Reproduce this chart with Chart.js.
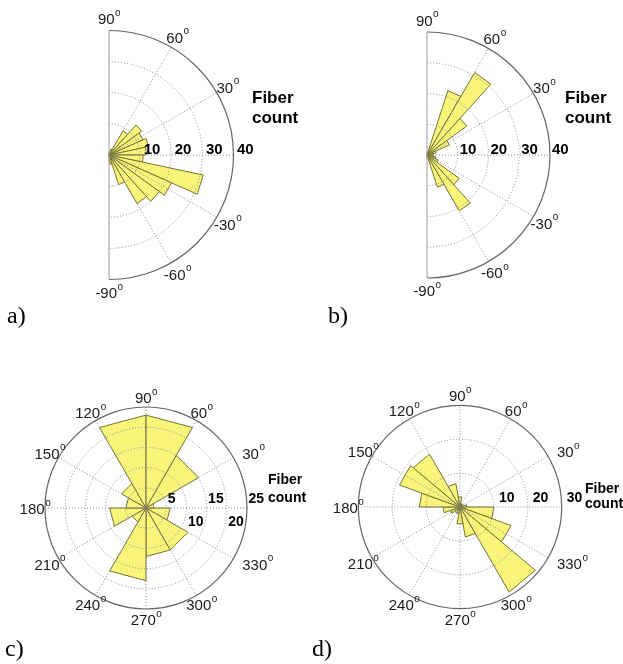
<!DOCTYPE html>
<html><head><meta charset="utf-8">
<script src="https://cdn.jsdelivr.net/npm/chart.js@4"></script>
<style>
html,body{margin:0;padding:0;background:#fff;}
body{width:623px;height:664px;position:relative;overflow:hidden;}
canvas{position:absolute;}
.fc{position:absolute;font-family:"Liberation Sans",Arial,Helvetica,sans-serif;font-weight:bold;color:#000;white-space:nowrap;}
.pl{position:absolute;font-family:"Liberation Serif","Times New Roman",serif;font-size:24px;line-height:24px;color:#000;}
</style></head><body>
<canvas id="ca" width="320" height="320" style="left:-51px;top:-5px;width:320px;height:320px"></canvas>
<canvas id="cb" width="320" height="320" style="left:267px;top:-5px;width:320px;height:320px"></canvas>
<canvas id="cc" width="290" height="290" style="left:1px;top:363px;width:290px;height:290px"></canvas>
<canvas id="cd" width="290" height="290" style="left:315px;top:362px;width:290px;height:290px"></canvas>
<div class="fc" style="left:252px;top:88px;font-size:17px;line-height:20px">Fiber<br>count</div>
<div class="fc" style="left:565px;top:88px;font-size:17px;line-height:20px">Fiber<br>count</div>
<div class="fc" style="left:268px;top:470px;font-size:14px;line-height:18px">Fiber<br>count</div>
<div class="fc" style="left:585px;top:481px;font-size:14px;line-height:15px">Fiber<br>count</div>
<div class="pl" style="left:7px;top:303px">a)</div>
<div class="pl" style="left:328px;top:303px">b)</div>
<div class="pl" style="left:5px;top:636px">c)</div>
<div class="pl" style="left:312px;top:636px">d)</div>
<script>
// ---------- data ----------
// a) 12-degree bins, start angle of each bin (deg) and fiber counts
const aBinStart = [-96,-84,-72,-60,-48,-36,-24,-12,0,12,24,36,48,60,72,84];
const aCounts   = [0,3,10,18,20,22,31,11,12,13,12,13,9,2,1,0];
const aRingTicks = [10,20,30,40];
const aAngleTicks = [90,60,30,-30,-60,-90];

// b)
const bBinStart = [-96,-84,-72,-60,-48,-36,-24,-12,0,12,24,36,48,60,72,84];
const bCounts   = [0,1,11,21,13,4,3,2,2,3,8,16,31,22,1,0];
const bRingTicks = [10,20,30,40];
const bAngleTicks = [90,60,30,-30,-60,-90];

// c) 30-degree bins
const cBinStart = [0,30,60,90,120,150,180,210,240,270,300,330];
const cCounts   = [2,15,23,23,7,5,9,4,18,12,12,6];
const cRingTicks = [5,10,15,20,25];
const cAngleTicks = [90,60,30,330,300,270,240,210,180,150,120];

// d) 20-degree bins
const dBinStart = [0,20,40,60,80,100,120,140,160,180,200,220,240,260,280,300,320,340];
const dCounts   = [2,1,1,1,3,7,18,19,12,5,3,2,2,5,9,29,16,10];
const dRingTicks = [10,20,30];
const dAngleTicks = [90,60,30,330,300,270,240,210,180,150,120];

// ---------- style ----------
const FILL = 'rgb(249,244,122)';
const EDGE = 'rgb(118,116,50)';
const SANS = '"Liberation Sans", Arial, Helvetica, sans-serif';

function degLabel(ctx, txt, x, y, align) {
  ctx.font = '15px ' + SANS;
  const w1 = ctx.measureText(txt).width;
  ctx.font = '10px ' + SANS;
  const w2 = ctx.measureText('o').width;
  let x0 = align === 'left' ? x : x - (w1 + w2) / 2;
  ctx.fillStyle = '#1a1a1a';
  ctx.textAlign = 'left';
  ctx.textBaseline = 'middle';
  ctx.font = '15px ' + SANS;
  ctx.fillText(txt, x0, y);
  ctx.font = '10px ' + SANS;
  ctx.fillText('o', x0 + w1 + 0.5, y - 7);
}

function rosePlugin(cfg) {
  return {
    id: 'roseGrid',
    afterDatasetsDraw(chart) {
      const s = chart.scales.r;
      const ctx = chart.ctx;
      const cx = s.xCenter, cy = s.yCenter;
      const R = s.getDistanceFromCenterForValue(cfg.outer);
      const a0 = cfg.half ? -Math.PI / 2 : 0;
      const a1 = cfg.half ? Math.PI / 2 : 2 * Math.PI;
      ctx.save();
      // dotted rings
      ctx.strokeStyle = '#8a8a8a';
      ctx.lineWidth = 1;
      ctx.setLineDash([1, 2]);
      cfg.ticks.forEach(v => {
        if (v >= cfg.outer) return;
        ctx.beginPath();
        ctx.arc(cx, cy, s.getDistanceFromCenterForValue(v), a0, a1);
        ctx.stroke();
      });
      // dotted spokes
      cfg.spokes.forEach(deg => {
        const t = -deg * Math.PI / 180;
        const r0 = cfg.half ? 0 : -R;
        ctx.beginPath();
        ctx.moveTo(cx + r0 * Math.cos(t), cy + r0 * Math.sin(t));
        ctx.lineTo(cx + R * Math.cos(t), cy + R * Math.sin(t));
        ctx.stroke();
      });
      ctx.setLineDash([]);
      // outer boundary
      ctx.strokeStyle = '#666';
      ctx.lineWidth = 1.2;
      ctx.beginPath();
      ctx.arc(cx, cy, R, a0, a1);
      ctx.stroke();
      if (cfg.half) {
        ctx.strokeStyle = '#9a9a9a';
        ctx.lineWidth = 1;
        ctx.beginPath();
        ctx.moveTo(cx, cy - R);
        ctx.lineTo(cx, cy + R);
        ctx.stroke();
      }
      // ring tick labels
      ctx.fillStyle = '#000';
      ctx.textAlign = 'left';
      ctx.textBaseline = 'alphabetic';
      ctx.font = 'bold ' + cfg.ringFont + 'px ' + SANS;
      cfg.ticks.forEach(v => {
        const x = cx + s.getDistanceFromCenterForValue(v) + cfg.ringDx;
        const below = cfg.below.indexOf(v) >= 0;
        ctx.fillText(String(v), x, below ? cy + cfg.belowDy : cy + cfg.aboveDy);
      });
      // angle labels
      cfg.angles.forEach(deg => {
        const t = deg * Math.PI / 180;
        const rr = 1.1 * R;
        const x = cx + rr * Math.cos(t);
        const y = cy - rr * Math.sin(t) + 2;
        const align = cfg.leftAligned.indexOf(deg) >= 0 ? 'left' : 'center';
        degLabel(ctx, String(deg), x, y, align);
      });
      ctx.restore();
    }
  };
}

function makeRose(id, starts, counts, binWidth, maxVal, cfg) {
  const order = starts.map((s, i) => i).reverse();   // clockwise order
  const labels = order.map(i => starts[i] + '°');
  const values = order.map(i => counts[i]);
  const firstEdge = starts[starts.length - 1] + binWidth;
  const startAngle = 90 - firstEdge;
  return new Chart(document.getElementById(id), {
    type: 'polarArea',
    data: {
      labels: labels,
      datasets: [{
        data: values,
        angle: binWidth,
        circular: false,
        backgroundColor: FILL,
        borderColor: EDGE,
        borderWidth: 1
      }]
    },
    options: {
      responsive: false,
      animation: false,
      events: [],
      layout: { padding: 0 },
      plugins: { legend: { display: false }, tooltip: { enabled: false } },
      scales: {
        r: {
          min: 0,
          max: maxVal,
          startAngle: startAngle,
          ticks: { display: false },
          grid: { display: false },
          angleLines: { display: false },
          pointLabels: { display: false }
        }
      }
    },
    plugins: [rosePlugin(cfg)]
  });
}

makeRose('ca', aBinStart, aCounts, 12, 40 * 160 / 124.5, {
  half: true, outer: 40, ticks: aRingTicks, spokes: [0, 30, 60, -30, -60],
  angles: aAngleTicks, leftAligned: [], ringFont: 15, ringDx: 3.5,
  below: [], aboveDy: -1.5, belowDy: 0
});
makeRose('cb', bBinStart, bCounts, 12, 40 * 160 / 123, {
  half: true, outer: 40, ticks: bRingTicks, spokes: [0, 30, 60, -30, -60],
  angles: bAngleTicks, leftAligned: [], ringFont: 15, ringDx: 2,
  below: [], aboveDy: -1.5, belowDy: 0
});
makeRose('cc', cBinStart, cCounts, 30, 25 * 145 / 101, {
  half: false, outer: 25, ticks: cRingTicks, spokes: [0, 30, 60, 90, 120, 150],
  angles: cAngleTicks, leftAligned: [30, 330], ringFont: 14, ringDx: 1.5,
  below: [10, 20], aboveDy: -5, belowDy: 18
});
makeRose('cd', dBinStart, dCounts, 20, 30 * 145 / 101.7, {
  half: false, outer: 30, ticks: dRingTicks, spokes: [0, 30, 60, 90, 120, 150],
  angles: dAngleTicks, leftAligned: [30, 330], ringFont: 14, ringDx: 5,
  below: [], aboveDy: -5, belowDy: 0
});
</script>
</body></html>
